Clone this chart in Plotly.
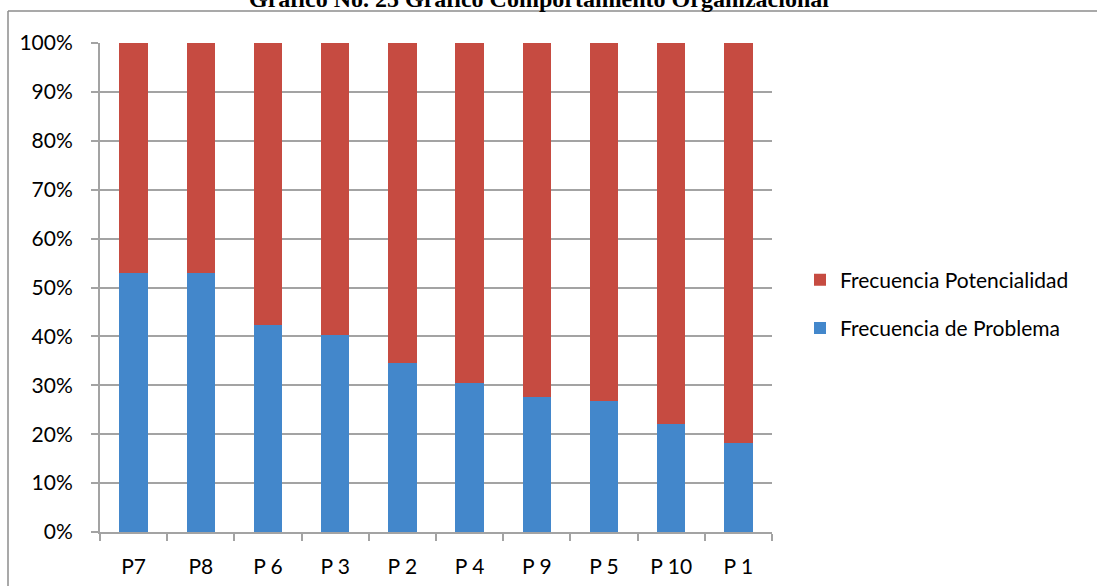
import plotly.graph_objects as go

# Category order as shown on the axis
categorias = ["P7", "P8", "P 6", "P 3", "P 2", "P 4", "P 9", "P 5", "P 10", "P 1"]

# Share of each answer type per question (percent)
frecuencia_problema = [52.9, 52.9, 42.3, 40.2, 34.5, 30.5, 27.7, 26.7, 22.0, 18.1]
frecuencia_potencialidad = [100 - v for v in frecuencia_problema]

W, H = 1097, 586
L, R, T, B = 100, 325, 43, 54
plot_w = W - L - R
plot_h = H - T - B

def px_to_paper_x(px):
    return (px - L) / plot_w

def px_to_paper_y(py):
    return (H - B - py) / plot_h

AZUL = "#4387cb"
ROJO = "#c64b41"
GRIS = "#a3a3a3"
FUENTE = "Lato, Calibri, Carlito, sans-serif"

fig = go.Figure()
fig.add_trace(go.Bar(
    x=categorias, y=frecuencia_problema, name="Frecuencia de Problema",
    marker=dict(color=AZUL, line=dict(width=0)),
    legendgroup="problema", legendrank=2,
))
fig.add_trace(go.Bar(
    x=categorias, y=frecuencia_potencialidad, name="Frecuencia Potencialidad",
    marker=dict(color=ROJO, line=dict(width=0)),
    legendgroup="potencialidad", legendrank=1,
))

fig.update_layout(
    width=W, height=H,
    margin=dict(l=L, r=R, t=T, b=B, autoexpand=False),
    barmode="stack",
    bargap=0.58,
    plot_bgcolor="white",
    paper_bgcolor="white",
    font=dict(family=FUENTE, size=21, color="#000000"),
    xaxis=dict(
        type="category",
        showgrid=False,
        showline=True, linecolor=GRIS, linewidth=2,
        ticks="outside", ticklen=7, tickwidth=2, tickcolor=GRIS,
        tickson="boundaries",
        ticklabelstandoff=15,
        tickfont=dict(size=21),
    ),
    yaxis=dict(
        range=[0, 100],
        tickvals=[0, 10, 20, 30, 40, 50, 60, 70, 80, 90, 100],
        ticktext=[f"{v}%" for v in range(0, 101, 10)],
        showgrid=True, gridcolor=GRIS, gridwidth=2,
        showline=True, linecolor=GRIS, linewidth=2,
        ticks="outside", ticklen=7, tickwidth=2, tickcolor=GRIS,
        ticklabelstandoff=14,
        zeroline=False,
        tickfont=dict(size=21),
    ),
    legend=dict(
        x=px_to_paper_x(800), xanchor="left",
        y=px_to_paper_y(304), yanchor="middle",
        traceorder="grouped",
        tracegroupgap=18,
        font=dict(size=21),
        bgcolor="rgba(0,0,0,0)",
    ),
    showlegend=True,
)

# Chart title (partly above the page edge)
fig.add_annotation(
    text="<b>Gráfico No. 25 Gráfico Comportamiento Organizacional</b>",
    xref="paper", yref="paper",
    x=px_to_paper_x(539), y=1.0, xanchor="center", yanchor="bottom",
    yshift=T - 14,
    showarrow=False,
    font=dict(family="Liberation Serif, Times New Roman, serif", size=24, color="#000000"),
)

# Outer frame of the chart area (top and left edges)
frame_color = "#8c8c8c"
fig.add_shape(type="line", xref="paper", yref="paper",
              x0=px_to_paper_x(8), x1=px_to_paper_x(1200),
              y0=px_to_paper_y(11), y1=px_to_paper_y(11),
              line=dict(color=frame_color, width=1.5))
fig.add_shape(type="line", xref="paper", yref="paper",
              x0=px_to_paper_x(8), x1=px_to_paper_x(8),
              y0=px_to_paper_y(11), y1=px_to_paper_y(700),
              line=dict(color=frame_color, width=1.5))

fig.write_html("out.html")
